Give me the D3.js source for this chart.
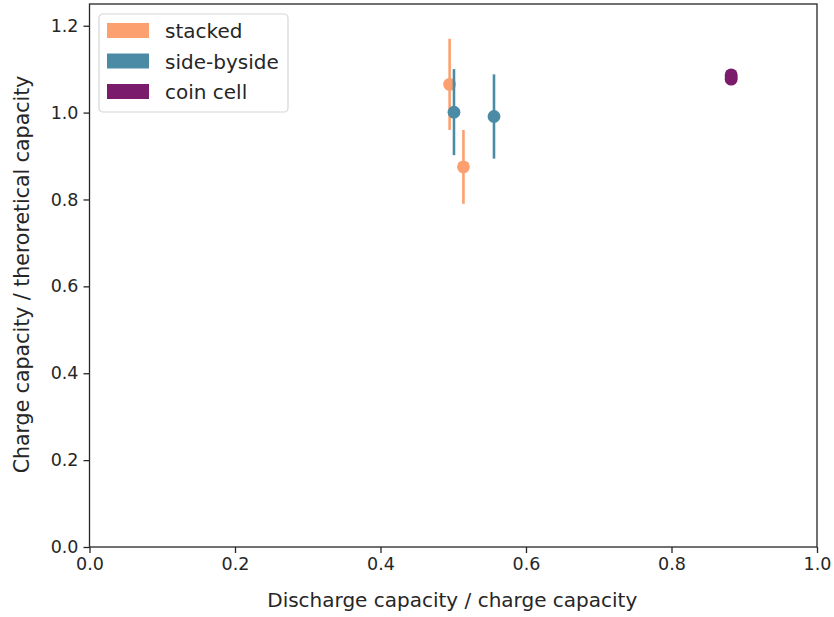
<!DOCTYPE html>
<html>
<head>
<meta charset="utf-8">
<title>capacity scatter</title>
<style>
  body { margin: 0; background: #fff; }
  svg text { font-family: "DejaVu Sans", sans-serif; fill: #262626; }
  .axis path, .axis line { stroke: #262626; stroke-width: 1.3px; }
</style>
</head>
<body>
<svg width="834" height="617"></svg>
<script src="https://d3js.org/d3.v7.min.js"></script>
<script>

// series: x = discharge/charge, y = charge/theoretical, e = y error
var seriesNames = ["stacked", "side-byside", "coin cell"];
var seriesColors = ["#fca06f", "#4b8ba6", "#7b1b6b"];

var stackedX = [0.495, 0.514];
var stackedY = [1.065, 0.875];
var stackedE = [0.105, 0.085];

var sideX = [0.501, 0.556];
var sideY = [1.001, 0.991];
var sideE = [0.099, 0.097];

var coinX = [0.882, 0.882, 0.882];
var coinY = [1.077, 1.082, 1.087];
var coinE = [0.003, 0.003, 0.003];

var xTicks = [0.0, 0.2, 0.4, 0.6, 0.8, 1.0];
var yTicks = [0.0, 0.2, 0.4, 0.6, 0.8, 1.0, 1.2];

var svg = d3.select("svg");
var margin = {left: 89.5, right: 17, top: 4, bottom: 70};
var W = +svg.attr("width"), H = +svg.attr("height");

var x = d3.scaleLinear().domain([0, 1]).range([margin.left, W - margin.right]);
var y = d3.scaleLinear().domain([0, 1.25]).range([H - margin.bottom, margin.top]);

var series = [
  {xs: stackedX, ys: stackedY, es: stackedE},
  {xs: sideX, ys: sideY, es: sideE},
  {xs: coinX, ys: coinY, es: coinE}
];

var plot = svg.append("g");
series.forEach(function(s, i) {
  var pts = s.xs.map(function(v, j) { return {x: v, y: s.ys[j], e: s.es[j]}; });
  var g = plot.append("g");
  g.selectAll("line").data(pts).enter().append("line")
    .attr("x1", function(d) { return x(d.x); })
    .attr("x2", function(d) { return x(d.x); })
    .attr("y1", function(d) { return y(d.y - d.e); })
    .attr("y2", function(d) { return y(d.y + d.e); })
    .attr("stroke", seriesColors[i])
    .attr("stroke-width", 2.6);
  g.selectAll("circle").data(pts).enter().append("circle")
    .attr("cx", function(d) { return x(d.x); })
    .attr("cy", function(d) { return y(d.y); })
    .attr("r", 6.4)
    .attr("fill", seriesColors[i]);
});

// axes
var fmt = d3.format(".1f");
svg.append("g").attr("class", "axis")
  .attr("transform", "translate(0," + (H - margin.bottom) + ")")
  .call(d3.axisBottom(x).tickValues(xTicks).tickFormat(fmt).tickSizeOuter(0).tickSize(6).tickPadding(5));
svg.append("g").attr("class", "axis")
  .attr("transform", "translate(" + margin.left + ",0)")
  .call(d3.axisLeft(y).tickValues(yTicks).tickFormat(fmt).tickSizeOuter(0).tickSize(6).tickPadding(5));
svg.selectAll(".axis text").style("font-size", "17.5px").attr("fill", "#262626");
svg.selectAll(".axis .domain").remove();

// frame
svg.append("rect")
  .attr("x", margin.left).attr("y", margin.top)
  .attr("width", W - margin.left - margin.right)
  .attr("height", H - margin.top - margin.bottom)
  .attr("fill", "none").attr("stroke", "#262626").attr("stroke-width", 1.3);

// axis labels
svg.append("text")
  .attr("x", (margin.left + W - margin.right) / 2 - 1).attr("y", 607)
  .attr("text-anchor", "middle").style("font-size", "20px")
  .text("Discharge capacity / charge capacity");
svg.append("text")
  .attr("transform", "translate(28.5," + ((margin.top + H - margin.bottom) / 2 - 1) + ") rotate(-90)")
  .attr("text-anchor", "middle").style("font-size", "20.5px")
  .text("Charge capacity / theroretical capacity");

// legend
var leg = svg.append("g").attr("transform", "translate(99,14)");
leg.append("rect")
  .attr("x", 0).attr("y", 0).attr("width", 189).attr("height", 98)
  .attr("rx", 4).attr("fill", "#fff").attr("fill-opacity", 0.8)
  .attr("stroke", "#d6d6d6").attr("stroke-width", 1.2);
seriesNames.forEach(function(name, i) {
  var row = leg.append("g").attr("transform", "translate(0," + (i * 30.5) + ")");
  row.append("rect").attr("x", 8).attr("y", 9).attr("width", 42).attr("height", 15)
    .attr("fill", seriesColors[i]);
  row.append("text").attr("x", 66).attr("y", 24)
    .style("font-size", "20px").text(name);
});

</script>
</body>
</html>
